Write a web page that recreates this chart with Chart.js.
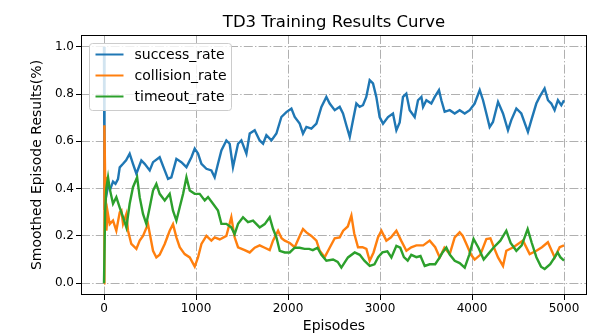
<!DOCTYPE html>
<html>
<head>
<meta charset="utf-8">
<script src="https://cdn.jsdelivr.net/npm/chart.js@4.4.0/dist/chart.umd.min.js"></script>
<style>
  html, body { margin: 0; padding: 0; background: #fff; }
</style>
</head>
<body>
<canvas id="td3Chart" width="601" height="336"></canvas>
<script>
// episode / smoothed value pairs
const successRate = [
  [0, 1.0], [3, 0.5], [8, 0.31], [20, 0.36], [44, 0.41], [70, 0.40], [98, 0.43], [125, 0.42],
  [152, 0.44], [171, 0.49], [207, 0.505], [240, 0.52], [279, 0.548], [315, 0.505], [352, 0.463],
  [406, 0.519], [442, 0.505], [497, 0.477], [533, 0.512], [605, 0.533], [660, 0.477], [696, 0.441],
  [732, 0.448], [787, 0.526], [841, 0.512], [896, 0.491], [950, 0.533], [986, 0.569], [1022, 0.548],
  [1059, 0.505], [1113, 0.484], [1167, 0.477], [1203, 0.448], [1239, 0.505], [1276, 0.562],
  [1330, 0.604], [1366, 0.590], [1402, 0.491], [1457, 0.590], [1493, 0.604], [1548, 0.548],
  [1584, 0.633], [1638, 0.647], [1692, 0.604], [1729, 0.590], [1765, 0.626], [1820, 0.604],
  [1874, 0.633], [1928, 0.703], [1982, 0.724], [2037, 0.739], [2073, 0.703], [2127, 0.675],
  [2163, 0.633], [2200, 0.661], [2254, 0.654], [2309, 0.675], [2363, 0.746], [2417, 0.788],
  [2453, 0.760], [2508, 0.732], [2562, 0.746], [2598, 0.718], [2634, 0.668], [2671, 0.619],
  [2707, 0.690], [2743, 0.760], [2779, 0.746], [2815, 0.753], [2851, 0.788], [2888, 0.859],
  [2924, 0.845], [2960, 0.788], [2996, 0.703], [3033, 0.675], [3087, 0.703], [3141, 0.718],
  [3178, 0.647], [3214, 0.68], [3250, 0.788], [3286, 0.802], [3323, 0.732], [3377, 0.703],
  [3413, 0.774], [3450, 0.788], [3468, 0.746], [3504, 0.774], [3558, 0.760], [3595, 0.788],
  [3641, 0.817], [3667, 0.774], [3703, 0.725], [3758, 0.732], [3812, 0.718], [3866, 0.732],
  [3921, 0.718], [3975, 0.732], [4029, 0.760], [4084, 0.817], [4120, 0.774], [4156, 0.718],
  [4192, 0.661], [4228, 0.682], [4283, 0.767], [4337, 0.718], [4391, 0.647], [4427, 0.690],
  [4482, 0.739], [4536, 0.718], [4608, 0.640], [4645, 0.690], [4699, 0.760], [4735, 0.788],
  [4789, 0.824], [4826, 0.774], [4862, 0.760], [4898, 0.732], [4934, 0.774], [4971, 0.753],
  [5000, 0.774]
];

const collisionRate = [
  [0, 0], [3, 0.5], [6, 0.668], [12, 0.45], [20, 0.30], [26, 0.222], [40, 0.30], [62, 0.25],
  [98, 0.265], [134, 0.222], [171, 0.30], [189, 0.307], [207, 0.251], [243, 0.293], [261, 0.222],
  [297, 0.166], [352, 0.145], [388, 0.18], [424, 0.20], [478, 0.25], [533, 0.137], [569, 0.109],
  [605, 0.12], [660, 0.166], [714, 0.222], [750, 0.25], [787, 0.194], [823, 0.152], [877, 0.123],
  [932, 0.109], [986, 0.07], [1022, 0.109], [1059, 0.166], [1113, 0.20], [1167, 0.18],
  [1203, 0.194], [1258, 0.185], [1330, 0.20], [1384, 0.279], [1420, 0.194], [1457, 0.152],
  [1529, 0.14], [1584, 0.13], [1638, 0.15], [1692, 0.16], [1747, 0.15], [1801, 0.14],
  [1837, 0.18], [1892, 0.222], [1930, 0.19], [1965, 0.18], [2019, 0.17], [2073, 0.152],
  [2127, 0.20], [2163, 0.229], [2200, 0.215], [2254, 0.20], [2309, 0.18], [2345, 0.137],
  [2399, 0.11], [2453, 0.15], [2508, 0.19], [2562, 0.194], [2600, 0.222], [2650, 0.24],
  [2689, 0.286], [2720, 0.21], [2761, 0.152], [2810, 0.152], [2852, 0.145], [2888, 0.095],
  [2930, 0.13], [2978, 0.194], [3015, 0.222], [3069, 0.18], [3120, 0.194], [3178, 0.222],
  [3230, 0.18], [3287, 0.137], [3340, 0.152], [3395, 0.16], [3470, 0.16], [3540, 0.18],
  [3600, 0.152], [3649, 0.109], [3700, 0.15], [3758, 0.123], [3812, 0.194], [3866, 0.215],
  [3900, 0.20], [3939, 0.166], [3990, 0.12], [4029, 0.10], [4090, 0.12], [4156, 0.187],
  [4200, 0.19], [4250, 0.14], [4283, 0.109], [4337, 0.073], [4373, 0.137], [4450, 0.152],
  [4554, 0.18], [4627, 0.123], [4700, 0.137], [4760, 0.152], [4825, 0.173], [4899, 0.109],
  [4953, 0.152], [5000, 0.16]
];

const timeoutRate = [
  [0, 0], [6, 0], [12, 0.30], [25, 0.40], [44, 0.448], [62, 0.40], [98, 0.336], [134, 0.364],
  [171, 0.32], [207, 0.279], [243, 0.236], [279, 0.336], [315, 0.406], [360, 0.448], [388, 0.364],
  [424, 0.293], [460, 0.251], [497, 0.321], [533, 0.392], [569, 0.420], [605, 0.378], [660, 0.35],
  [714, 0.378], [750, 0.307], [787, 0.265], [823, 0.321], [860, 0.378], [896, 0.448], [932, 0.392],
  [986, 0.378], [1040, 0.378], [1095, 0.350], [1131, 0.364], [1185, 0.336], [1239, 0.307],
  [1276, 0.251], [1330, 0.251], [1384, 0.236], [1420, 0.208], [1457, 0.251], [1511, 0.279],
  [1565, 0.258], [1620, 0.265], [1692, 0.236], [1747, 0.25], [1801, 0.279], [1837, 0.23],
  [1874, 0.194], [1910, 0.137], [1965, 0.13], [2019, 0.13], [2073, 0.15], [2127, 0.15],
  [2180, 0.145], [2230, 0.145], [2270, 0.14], [2320, 0.15], [2363, 0.12], [2417, 0.095],
  [2490, 0.10], [2540, 0.09], [2580, 0.066], [2620, 0.09], [2652, 0.109], [2725, 0.13],
  [2780, 0.12], [2830, 0.095], [2888, 0.073], [2940, 0.08], [2980, 0.11], [3026, 0.13],
  [3080, 0.135], [3124, 0.109], [3178, 0.158], [3220, 0.15], [3260, 0.11], [3301, 0.095],
  [3340, 0.12], [3395, 0.11], [3440, 0.115], [3486, 0.073], [3540, 0.08], [3600, 0.08],
  [3649, 0.109], [3680, 0.13], [3721, 0.151], [3760, 0.12], [3812, 0.095], [3866, 0.085],
  [3921, 0.066], [3970, 0.12], [4017, 0.187], [4070, 0.15], [4127, 0.10], [4180, 0.125],
  [4235, 0.151], [4308, 0.18], [4373, 0.222], [4420, 0.17], [4482, 0.137], [4540, 0.16],
  [4605, 0.229], [4650, 0.17], [4700, 0.11], [4750, 0.07], [4790, 0.06], [4850, 0.08],
  [4900, 0.11], [4931, 0.13], [4960, 0.11], [5000, 0.095]
];

const xTicks = [0, 1000, 2000, 3000, 4000, 5000];
const yTicks = [0.0, 0.2, 0.4, 0.6, 0.8, 1.0];

const FONT = "'DejaVu Sans', sans-serif";
Chart.defaults.font.family = FONT;
Chart.defaults.color = "#000";

function toPoints(pairs) {
  return pairs.map(p => ({ x: p[0], y: p[1] }));
}

// spines + matplotlib-like legend box, drawn over the lines
const frameAndLegend = {
  id: "frameAndLegend",
  afterDatasetsDraw(chart) {
    const ctx = chart.ctx;
    const a = chart.chartArea;
    ctx.save();
    ctx.strokeStyle = "#000";
    ctx.lineWidth = 1;
    ctx.strokeRect(a.left + 0.5, a.top + 0.5, a.right - a.left - 1, a.bottom - a.top - 1);

    const lx = a.left + 8.5, ly = a.top + 8.5, lw = 142, lh = 67;
    ctx.beginPath();
    ctx.roundRect(lx, ly, lw, lh, 3);
    ctx.fillStyle = "rgba(255,255,255,0.8)";
    ctx.fill();
    ctx.strokeStyle = "#cccccc";
    ctx.stroke();

    ctx.font = "14px " + FONT;
    ctx.textBaseline = "middle";
    ctx.textAlign = "left";
    chart.data.datasets.forEach((ds, i) => {
      const y = ly + 11 + i * 21;
      ctx.beginPath();
      ctx.strokeStyle = ds.borderColor;
      ctx.lineWidth = 2;
      ctx.moveTo(lx + 6, y);
      ctx.lineTo(lx + 34, y);
      ctx.stroke();
      ctx.fillStyle = "#000";
      ctx.fillText(ds.label, lx + 45, y + 1);
    });
    ctx.restore();
  }
};

const gridDash = [9, 2.2, 1.4, 2.2];

new Chart(document.getElementById("td3Chart"), {
  type: "line",
  data: {
    datasets: [
      { label: "success_rate", data: toPoints(successRate), borderColor: "#1f77b4", order: 2 },
      { label: "collision_rate", data: toPoints(collisionRate), borderColor: "#ff7f0e", order: 1 },
      { label: "timeout_rate", data: toPoints(timeoutRate), borderColor: "#2ca02c", order: 0 }
    ]
  },
  options: {
    responsive: false,
    animation: false,
    parsing: false,
    layout: { padding: { left: 0, right: 14, top: 0, bottom: 0 } },
    elements: {
      point: { radius: 0 },
      line: { borderWidth: 2.4, tension: 0, fill: false }
    },
    plugins: {
      legend: { display: false },
      tooltip: { enabled: false },
      title: {
        display: true,
        text: "TD3 Training Results Curve",
        fullSize: false,
        color: "#000",
        font: { size: 16.5, weight: "normal" },
        padding: { top: 13, bottom: 2.2 }
      }
    },
    scales: {
      x: {
        type: "linear",
        min: -250,
        max: 5250,
        afterBuildTicks: s => { s.ticks = xTicks.map(v => ({ value: v })); },
        afterFit: s => { s.height = 41; },
        grid: { color: "#b0b0b0", lineWidth: 1, tickColor: "#000", tickLength: 5, tickWidth: 1 },
        border: { display: false, dash: gridDash },
        ticks: { font: { size: 12 }, padding: 2, maxRotation: 0, callback: v => String(v) },
        title: { display: true, text: "Episodes", font: { size: 14 }, padding: { top: 0, bottom: 1 } }
      },
      y: {
        type: "linear",
        min: -0.05,
        max: 1.05,
        afterBuildTicks: s => { s.ticks = yTicks.map(v => ({ value: v })); },
        afterFit: s => { s.width = 81; },
        grid: { color: "#b0b0b0", lineWidth: 1, tickColor: "#000", tickLength: 5, tickWidth: 1 },
        border: { display: false, dash: gridDash },
        ticks: { font: { size: 12 }, padding: 2, callback: v => Number(v).toFixed(1) },
        title: { display: true, text: "Smoothed Episode Results(%)", font: { size: 14 }, padding: { top: 29, bottom: 0 } }
      }
    }
  },
  plugins: [frameAndLegend]
});
</script>
</body>
</html>
